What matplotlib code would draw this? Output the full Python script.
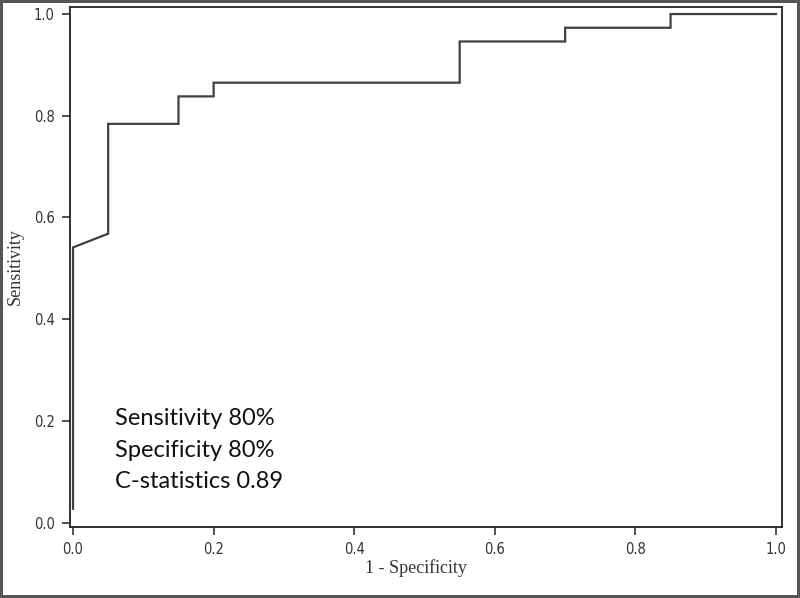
import matplotlib
matplotlib.use("Agg")
import matplotlib.pyplot as plt

# ROC curve vertices (1 - specificity, sensitivity)
fpr = [0.0, 0.0, 0.05, 0.05, 0.15, 0.15, 0.20, 0.20, 0.55, 0.55, 0.70, 0.70, 0.85, 0.85, 1.0]
tpr = [0.027, 0.541, 0.568, 0.784, 0.784, 0.838, 0.838, 0.865, 0.865, 0.946, 0.946, 0.973, 0.973, 1.0, 1.0]

ticks = [0.0, 0.2, 0.4, 0.6, 0.8, 1.0]
tick_labels = ["0.0", "0.2", "0.4", "0.6", "0.8", "1.0"]
annotation = ["Sensitivity 80%", "Specificity 80%", "C-statistics 0.89"]

fig = plt.figure(figsize=(8.0, 5.98), dpi=100)
fig.patch.set_edgecolor("#555555")
fig.patch.set_linewidth(3)

ax = fig.add_axes([70/800, 1-527/598, (782-70)/800, (527-7)/598])
ax.plot(fpr, tpr, color="#404040", lw=1.6, solid_joinstyle="miter")

ax.set_xlim(-0.0043, 1.0085)
ax.set_ylim(-0.0088, 1.0138)
ax.set_xticks(ticks)
ax.set_xticklabels(tick_labels)
ax.set_yticks(ticks)
ax.set_yticklabels(tick_labels)
for lab in ax.get_xticklabels() + ax.get_yticklabels():
    lab.set_fontfamily("DejaVu Sans")
    lab.set_fontstretch("condensed")
    lab.set_fontsize(10.5)
    lab.set_color("#333333")
ax.tick_params(direction="out", length=6, width=1.2, color="#333333", pad=5)
for s in ax.spines.values():
    s.set_linewidth(1.3)
    s.set_color("#222222")

ax.set_xlabel("1 - Specificity", family="Liberation Serif", fontsize=13, color="#333333", va="center")
ax.xaxis.set_label_coords((416-70)/712, (527-568)/520)
ax.set_ylabel("Sensitivity", family="Liberation Serif", fontsize=13, color="#333333", va="center")
ax.yaxis.set_label_coords((15-70)/712, (527-267)/520)

ax.text(0.06, 0.1426, "\n".join(annotation), family="Lato", fontsize=17,
        va="center", ha="left", color="#111111", linespacing=1.62)

fig.savefig("out.png", dpi=100, edgecolor=fig.get_edgecolor())
